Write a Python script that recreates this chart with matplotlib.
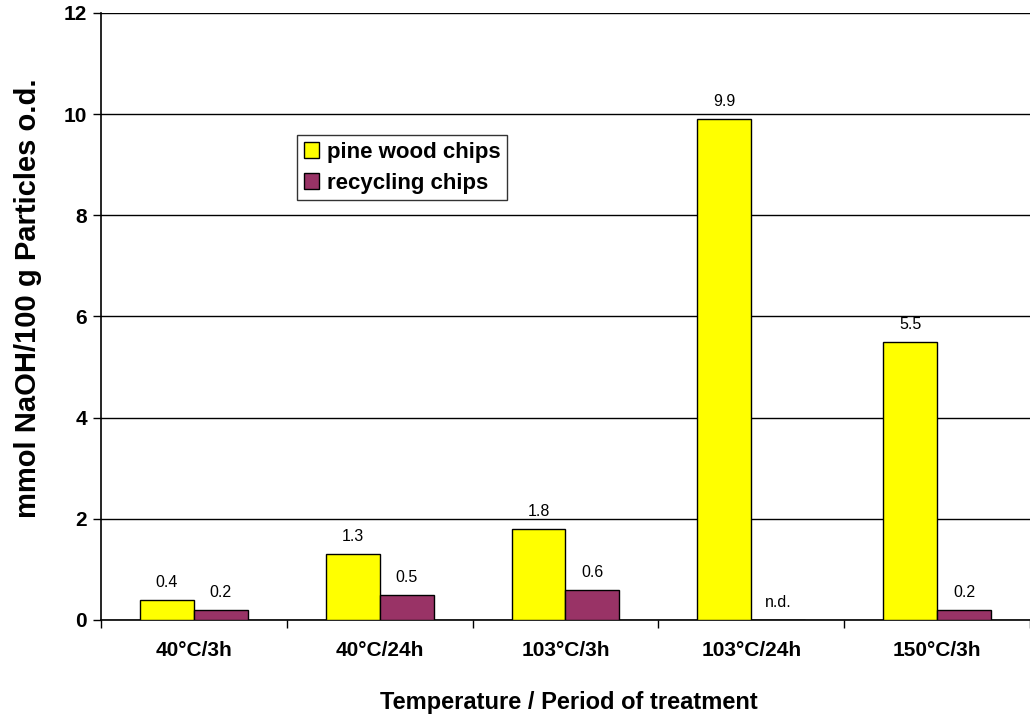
import numpy as np
import matplotlib
matplotlib.use('Agg')
import matplotlib.pyplot as plt
from matplotlib.patches import Patch

plt.rcParams['font.family'] = ['Liberation Sans', 'DejaVu Sans']

# NaOH consumption per treatment
categories = ['40°C/3h', '40°C/24h', '103°C/3h', '103°C/24h', '150°C/3h']
pine_wood = [0.4, 1.3, 1.8, 9.9, 5.5]
recycling = [0.2, 0.5, 0.6, None, 0.2]   # None = not determined
pine_labels = ['0.4', '1.3', '1.8', '9.9', '5.5']
recycling_labels = ['0.2', '0.5', '0.6', 'n.d.', '0.2']

fig = plt.figure(figsize=(10.3, 7.18), dpi=100)
ax = fig.add_axes([0.098, 0.1365, 0.902, 0.8455])

x = np.arange(len(categories))
w = 0.29
rec_vals = [v if v is not None else 0 for v in recycling]

ax.bar(x - w / 2, pine_wood, w, color='#FFFF00', edgecolor='black', linewidth=1, zorder=3)
ax.bar(x + w / 2, rec_vals, w, color='#993366', edgecolor='black', linewidth=1, zorder=3)

for xi, v, s in zip(x, pine_wood, pine_labels):
    ax.text(xi - w / 2, v + 0.2, s, ha='center', va='bottom', fontsize=11.5)
for xi, v, s in zip(x, rec_vals, recycling_labels):
    ax.text(xi + w / 2, v + 0.2, s, ha='center', va='bottom', fontsize=11.5)

ax.set_xlim(-0.5, len(categories) - 0.5)
ax.set_ylim(0, 12)
ax.set_yticks(np.arange(0, 13, 2))
ax.set_yticklabels([str(v) for v in range(0, 13, 2)], fontsize=15, fontweight='bold')
ax.yaxis.grid(True, color='black', linewidth=1)
ax.set_axisbelow(True)

# category labels centred, ticks on category boundaries
ax.set_xticks(x)
ax.set_xticklabels(categories, fontsize=15, fontweight='bold')
ax.tick_params(axis='x', length=0, pad=15)
ax.set_xticks(np.arange(-0.5, len(categories), 1), minor=True)
ax.tick_params(axis='x', which='minor', length=6, width=1)
ax.tick_params(axis='y', length=6, width=1, pad=4)

for side in ['top', 'right']:
    ax.spines[side].set_visible(False)
ax.spines['left'].set_linewidth(1.2)
ax.spines['bottom'].set_linewidth(1.2)

fig.text(28 / 1030, 1 - 298 / 718, 'mmol NaOH/100 g Particles o.d.', rotation=90,
         ha='center', va='center', fontsize=21, fontweight='bold')
fig.text(569 / 1030, 1 - 703 / 718, 'Temperature / Period of treatment',
         ha='center', va='center', fontsize=17, fontweight='bold')

handles = [Patch(facecolor='#FFFF00', edgecolor='black', label='pine wood chips'),
           Patch(facecolor='#993366', edgecolor='black', label='recycling chips')]
leg = ax.legend(handles=handles, loc='upper left', bbox_to_anchor=(0.211, 0.799),
                prop={'size': 16, 'weight': 'bold'}, frameon=True, fancybox=False,
                edgecolor='black', handlelength=0.7, handleheight=0.7, handletextpad=0.35,
                borderpad=0.3, labelspacing=0.45, borderaxespad=0)
leg.get_frame().set_linewidth(1)

fig.savefig('out.png', dpi=100)
